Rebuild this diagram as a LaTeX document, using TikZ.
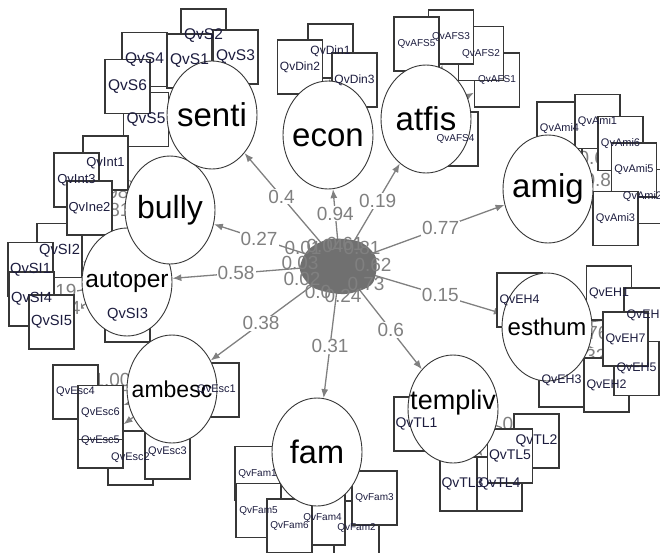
\documentclass[tikz,border=0pt]{standalone}
\usepackage{fontspec}
\setmainfont{Liberation Sans}
\usetikzlibrary{shapes.geometric,arrows.meta}
\pgfdeclarelayer{bg}
\pgfdeclarelayer{fg}
\pgfsetlayers{bg,main,fg}
\newcommand\fsz[1]{\fontsize{#1}{#1}\selectfont}
\definecolor{edgegray}{RGB}{128,128,128}
\definecolor{rimgray}{RGB}{55,55,55}
\definecolor{knotgray}{RGB}{112,112,112}
\definecolor{boxtxt}{RGB}{28,28,62}
\tikzset{
  fac/.style={ellipse,draw=rimgray,line width=.9pt,fill=white,minimum width=90pt,minimum height=108pt,inner sep=0pt},
  ftxt/.style={font=\fsz{#1},text=black,inner sep=0pt},
  ind/.style={rectangle,draw=rimgray,line width=1.1pt,fill=white,minimum width=45pt,minimum height=54pt,inner sep=0pt},
  itxt/.style={font=\fsz{#1},text=boxtxt,inner sep=0pt},
  fedge/.style={draw=edgegray,line width=1.3pt,-{Latex[length=9pt,width=7pt]}},
  elab/.style={font=\fsz{19},text=edgegray,fill=white,inner sep=1pt},
  knot/.style={font=\fsz{19},text=edgegray,inner sep=0pt},
}
\begin{document}
\begin{tikzpicture}[x=1pt,y=-1pt]
\useasboundingbox (0,0) rectangle (660,552);
% indicators, drawn in the order they overlap
\foreach \n/\x/\y in {QvS2/203.5/36,QvS3/235.5/57,QvS1/189.5/61,QvS4/144.5/59.5,QvS5/146/119.5,QvS6/127.5/86.5,
  QvDin1/330.5/51,QvDin2/300/67,QvDin3/354.5/80,
  QvAFS1/497/80,QvAFS2/481/53.5,QvAFS3/451/37,QvAFS5/416.5/44,QvAFS4/455.5/139,
  QvAmi4/559.5/129,QvAmi1/597.5/121.5,QvAmi6/620.5/143.5,QvAmi2/642.5/196.5,QvAmi5/634/170,QvAmi3/615.5/218.5,
  QvEH4/519.5/300,QvEH1/609/293,QvEH6/646.5/315,QvEH3/561.5/380,QvEH2/606.5/385,QvEH5/636.5/368.5,QvEH7/625.5/339,
  QvTL1/416.5/424,QvTL2/536.5/441,QvTL3/462.5/484,QvTL4/499.5/484,QvTL5/510/456,
  QvFam1/257.5/473.5,QvFam5/258.5/510.5,QvFam2/356.5/528,QvFam3/374.5/498,QvFam4/322.5/518,QvFam6/289.5/526,
  QvEsc1/216.5/390,QvEsc4/75.5/392,QvEsc2/130.5/458,QvEsc3/167.5/452,QvEsc5/100.5/441,QvEsc6/100.5/412.5,
  QvSI3/127.5/315,QvSI2/59.5/250.5,QvSI1/30.5/269.5,QvSI4/31.5/299,QvSI5/51.5/322,
  QvInt1/105.5/163,QvInt3/76.5/180,QvIne2/89.5/208}
  \node[ind] (\n) at (\x,\y) {};
% latent factors
\node[ellipse,minimum width=70pt,minimum height=50pt] (g) at (340,265) {};
\node[fac] (econ) at (328,135) {};
\node[fac] (atfis) at (426,119) {};
\node[fac] (amig) at (548,189) {};
\node[fac] (esthum) at (547,327) {};
\node[fac] (templiv) at (453,409) {};
\node[fac] (fam) at (317,452) {};
\node[fac] (ambesc) at (172,389) {};
\node[fac] (autoper) at (127,282) {};
\node[fac] (bully) at (170,210) {};
\node[fac] (senti) at (212,115) {};

\begin{pgfonlayer}{bg}
\foreach \f/\i in {senti/QvS1,senti/QvS2,senti/QvS3,senti/QvS4,senti/QvS5,senti/QvS6,
  econ/QvDin1,econ/QvDin2,econ/QvDin3,
  atfis/QvAFS1,atfis/QvAFS2,atfis/QvAFS3,atfis/QvAFS4,atfis/QvAFS5,
  amig/QvAmi1,amig/QvAmi2,amig/QvAmi3,amig/QvAmi4,amig/QvAmi5,amig/QvAmi6,
  esthum/QvEH1,esthum/QvEH2,esthum/QvEH3,esthum/QvEH4,esthum/QvEH5,esthum/QvEH6,esthum/QvEH7,
  templiv/QvTL1,templiv/QvTL2,templiv/QvTL3,templiv/QvTL4,templiv/QvTL5,
  fam/QvFam1,fam/QvFam2,fam/QvFam3,fam/QvFam4,fam/QvFam5,fam/QvFam6,
  ambesc/QvEsc1,ambesc/QvEsc2,ambesc/QvEsc3,ambesc/QvEsc4,ambesc/QvEsc5,ambesc/QvEsc6,
  autoper/QvSI1,autoper/QvSI2,autoper/QvSI3,autoper/QvSI4,autoper/QvSI5,
  bully/QvInt1,bully/QvIne2,bully/QvInt3}
  \draw[fedge] (\f) -- (\i);
% loadings that peek out between the boxes
\node[elab] (l1) at (110,192) {0.98};
\node[elab] (l2) at (112,210) {0.81};
\node[elab] (l3) at (58,291) {0.19};
\node[elab] (l4) at (62,308) {0.24};
\node[elab] (l5) at (597,158) {0.66};
\node[elab] (l6) at (603,180) {0.86};
\node[elab] (l7) at (590,333) {0.76};
\node[elab] (l8) at (588,356) {0.32};
\node[elab] (l9) at (112,380) {1.00};
\node[elab] (l10) at (521,424) {0.71};
% structural paths
\draw[fedge] (g) -- (senti) node[elab,pos=.52] {0.4};
\draw[fedge] (g) -- (econ) node[elab,pos=.52] {0.94};
\draw[fedge] (g) -- (atfis) node[elab,pos=.52] {0.19};
\draw[fedge] (g) -- (amig) node[elab,pos=.52] {0.77};
\draw[fedge] (g) -- (esthum) node[elab,pos=.52] {0.15};
\draw[fedge] (g) -- (templiv) node[elab,pos=.52] {0.6};
\draw[fedge] (g) -- (fam) node[elab,pos=.52] {0.31};
\draw[fedge] (g) -- (ambesc) node[elab,pos=.52] {0.38};
\draw[fedge] (g) -- (autoper) node[elab,pos=.52] {0.58};
\draw[fedge] (g) -- (bully) node[elab,pos=.52] {0.27};
% the knot of residuals on the general factor
\fill[knotgray] plot[smooth cycle] coordinates {(308,250) (330,239) (360,242) (376,258) (372,284) (345,294) (314,288) (300,270)};
\foreach \n/\x/\y/\t in {k1/303/248/0.01,k2/300/263/0.03,k3/302/279/0.02,k4/318/292/0.0,k5/343/296/0.24,
  k6/366/284/0.73,k7/373/265/0.62,k8/362/248/0.81,k9/345/244/0.61,k10/325/246/0.04}
  \node[knot] (\n) at (\x,\y) {\t};
\end{pgfonlayer}

\begin{pgfonlayer}{fg}
\node[ftxt=33] (senti-t) at (senti) {senti};
\node[ftxt=33] (econ-t) at ([yshift=-3pt]econ) {econ};
\node[ftxt=33] (atfis-t) at (atfis) {atfis};
\node[ftxt=33] (amig-t) at (amig) {amig};
\node[ftxt=24] (esthum-t) at (esthum) {esthum};
\node[ftxt=27] (templiv-t) at ([yshift=6pt]templiv) {templiv};
\node[ftxt=32.5] (fam-t) at (fam) {fam};
\node[ftxt=23] (ambesc-t) at (ambesc) {ambesc};
\node[ftxt=24.5] (autoper-t) at (autoper) {autoper};
\node[ftxt=32] (bully-t) at (bully) {bully};
\foreach \n in {QvS1,QvS2,QvS3,QvS4,QvS5,QvS6} \node[itxt=15.5] at (\n) {\n};
\foreach \n in {QvDin1,QvDin2,QvDin3} \node[itxt=12] at (\n) {\n};
\foreach \n in {QvAFS1,QvAFS2,QvAFS3,QvAFS4,QvAFS5} \node[itxt=10] at (\n) {\n};
\foreach \n in {QvAmi1,QvAmi2,QvAmi3,QvAmi4,QvAmi5,QvAmi6} \node[itxt=11] at (\n) {\n};
\foreach \n in {QvEH1,QvEH2,QvEH3,QvEH4,QvEH5,QvEH6,QvEH7} \node[itxt=12.4] at (\n) {\n};
\foreach \n in {QvTL1,QvTL2,QvTL3,QvTL4,QvTL5} \node[itxt=14] at (\n) {\n};
\foreach \n in {QvFam1,QvFam2,QvFam3,QvFam4,QvFam5,QvFam6} \node[itxt=10] at (\n) {\n};
\foreach \n in {QvEsc1,QvEsc2,QvEsc3,QvEsc4,QvEsc5,QvEsc6} \node[itxt=11] at (\n) {\n};
\foreach \n in {QvSI1,QvSI2,QvSI3,QvSI4,QvSI5} \node[itxt=14.7] at (\n) {\n};
\foreach \n in {QvInt1,QvInt3,QvIne2} \node[itxt=13] at (\n) {\n};
\end{pgfonlayer}
\end{tikzpicture}
\end{document}
